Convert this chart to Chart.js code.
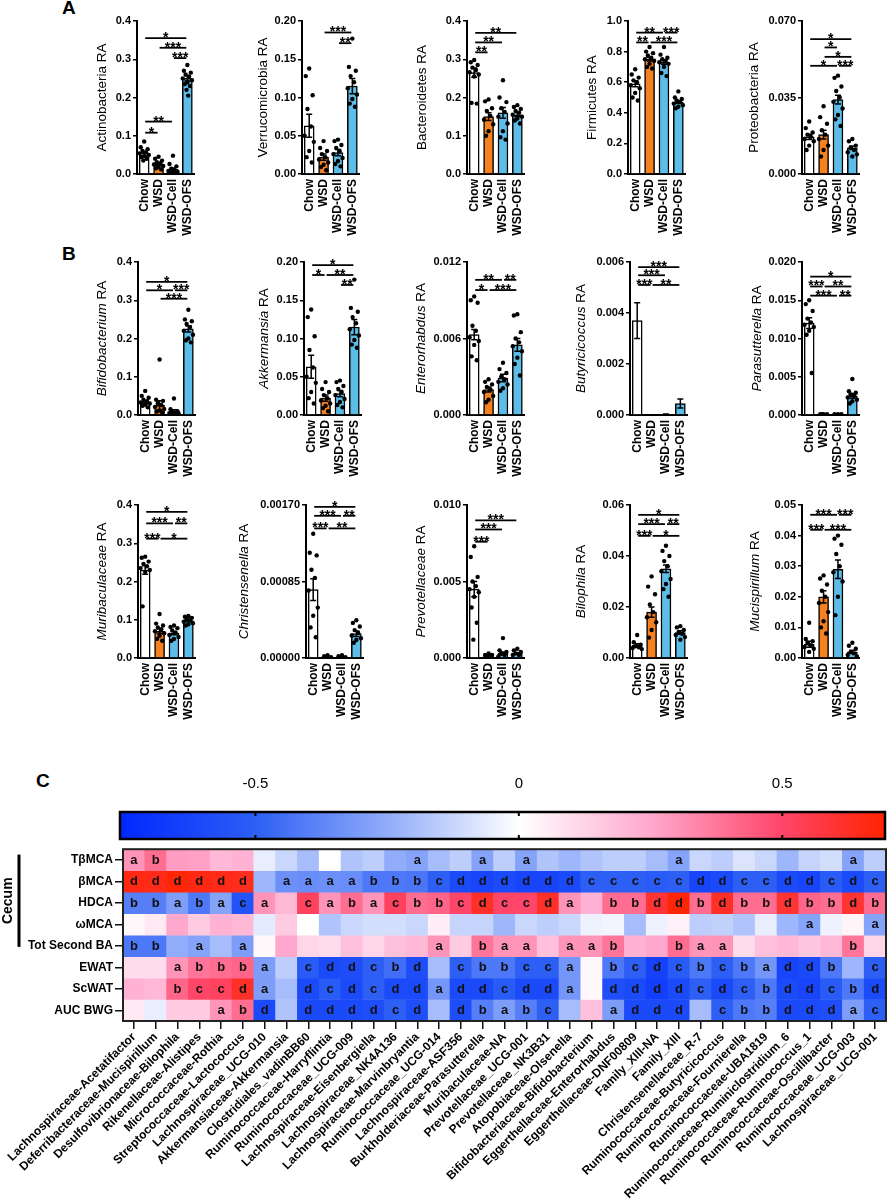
<!DOCTYPE html>
<html>
<head>
<meta charset="utf-8">
<script src="https://cdn.jsdelivr.net/npm/chart.js@4/dist/chart.umd.min.js"></script>
<style>
  body { margin: 0; width: 896px; height: 1200px; position: relative; overflow: hidden; background: #fff; font-family: "Liberation Sans", Arial, sans-serif; }
  .tag { position: absolute; font-weight: bold; font-size: 19px; color: #000; }
  canvas { position: absolute; }
</style>
</head>
<body>
<div class="tag" style="left:62px;top:-3px;">A</div>
<div class="tag" style="left:62px;top:243px;">B</div>
<div class="tag" style="left:36px;top:770px;">C</div>

<script>
// ===== 数据 =====
const groups = ['Chow', 'WSD', 'WSD-Cell', 'WSD-OFS'];

// ---- A: 门水平 ----
const actinoMean = [0.050, 0.025, 0.012, 0.250];
const actinoSem = [0.004, 0.003, 0.004, 0.007];
const actinoPts = [
  [0.085, 0.070, 0.065, 0.060, 0.057, 0.054, 0.050, 0.047, 0.044, 0.040, 0.035],
  [0.045, 0.040, 0.035, 0.031, 0.028, 0.025, 0.021, 0.018, 0.015, 0.012],
  [0.048, 0.026, 0.020, 0.014, 0.010, 0.008, 0.006, 0.004, 0.003, 0.002],
  [0.285, 0.270, 0.265, 0.260, 0.255, 0.250, 0.245, 0.240, 0.235, 0.230, 0.220, 0.205],
];
const actinoSig = [[0, 3, 0.355, '*'], [1, 3, 0.330, '***'], [2, 3, 0.303, '***'], [0, 2, 0.137, '**'], [0, 1, 0.108, '*']];
const actinoTicks = [0, 0.1, 0.2, 0.3, 0.4];

const verrucoMean = [0.063, 0.022, 0.028, 0.115];
const verrucoSem = [0.015, 0.004, 0.004, 0.010];
const verrucoPts = [
  [0.138, 0.128, 0.103, 0.085, 0.062, 0.050, 0.042, 0.030, 0.022, 0.015],
  [0.043, 0.034, 0.030, 0.026, 0.022, 0.019, 0.015, 0.012, 0.009, 0.005],
  [0.045, 0.043, 0.038, 0.034, 0.030, 0.026, 0.021, 0.017, 0.013, 0.010],
  [0.177, 0.140, 0.135, 0.128, 0.120, 0.112, 0.104, 0.098, 0.092, 0.088],
];
const verrucoSig = [[1, 3, 0.185, '***'], [2, 3, 0.171, '**']];
const verrucoTicks = [0, 0.05, 0.10, 0.15, 0.20];

const bactMean = [0.265, 0.150, 0.160, 0.155];
const bactSem = [0.012, 0.010, 0.014, 0.005];
const bactPts = [
  [0.298, 0.292, 0.285, 0.278, 0.272, 0.266, 0.260, 0.255, 0.186, 0.184],
  [0.195, 0.190, 0.172, 0.165, 0.152, 0.142, 0.130, 0.112, 0.100],
  [0.245, 0.200, 0.188, 0.172, 0.162, 0.150, 0.132, 0.112, 0.096, 0.090],
  [0.180, 0.175, 0.170, 0.165, 0.160, 0.155, 0.150, 0.145, 0.140, 0.132],
];
const bactSig = [[0, 3, 0.369, '**'], [0, 2, 0.344, '**'], [0, 1, 0.318, '**']];
const bactTicks = [0, 0.1, 0.2, 0.3, 0.4];

const firmMean = [0.59, 0.75, 0.73, 0.47];
const firmSem = [0.020, 0.012, 0.012, 0.010];
const firmPts = [
  [0.685, 0.650, 0.630, 0.612, 0.600, 0.580, 0.560, 0.530, 0.500, 0.480],
  [0.830, 0.800, 0.790, 0.775, 0.760, 0.750, 0.740, 0.720, 0.700, 0.690],
  [0.830, 0.780, 0.760, 0.750, 0.740, 0.730, 0.720, 0.700, 0.660, 0.640],
  [0.540, 0.500, 0.490, 0.480, 0.470, 0.460, 0.450, 0.440, 0.430],
];
const firmSig = [[0, 2, 0.924, '**'], [2, 3, 0.924, '***'], [0, 1, 0.860, '**'], [1, 3, 0.860, '***']];
const firmTicks = [0, 0.2, 0.4, 0.6, 0.8, 1.0];

const proteoMean = [0.017, 0.018, 0.034, 0.012];
const proteoSem = [0.0012, 0.0020, 0.0020, 0.0008];
const proteoPts = [
  [0.024, 0.021, 0.019, 0.018, 0.017, 0.016, 0.015, 0.013, 0.011],
  [0.031, 0.026, 0.023, 0.020, 0.018, 0.016, 0.013, 0.011, 0.008],
  [0.045, 0.044, 0.040, 0.038, 0.035, 0.033, 0.030, 0.027, 0.025, 0.022],
  [0.016, 0.015, 0.013, 0.012, 0.011, 0.010, 0.009, 0.008],
];
const proteoSig = [[0, 3, 0.0617, '*'], [1, 2, 0.0579, '*'], [1, 3, 0.0536, '*'], [0, 2, 0.0495, '*'], [2, 3, 0.0495, '***']];
const proteoTicks = [0, 0.035, 0.070];

// ---- B: 属水平 ----
const bifidoMean = [0.033, 0.025, 0.010, 0.225];
const bifidoSem = [0.004, 0.012, 0.004, 0.008];
const bifidoPts = [
  [0.063, 0.050, 0.045, 0.040, 0.036, 0.033, 0.030, 0.027, 0.024, 0.020],
  [0.145, 0.040, 0.037, 0.031, 0.026, 0.021, 0.016, 0.012, 0.009, 0.006],
  [0.043, 0.015, 0.010, 0.008, 0.006, 0.005, 0.004, 0.003, 0.002],
  [0.275, 0.250, 0.245, 0.238, 0.230, 0.220, 0.210, 0.200, 0.195, 0.190],
];
const bifidoSig = [[0, 3, 0.348, '*'], [0, 2, 0.326, '*'], [2, 3, 0.326, '***'], [1, 3, 0.304, '***']];
const bifidoTicks = [0, 0.1, 0.2, 0.3, 0.4];

const akkMean = [0.063, 0.022, 0.028, 0.115];
const akkSem = [0.015, 0.004, 0.004, 0.010];
const akkPts = [
  [0.138, 0.128, 0.103, 0.085, 0.062, 0.050, 0.042, 0.030, 0.022, 0.015],
  [0.043, 0.034, 0.030, 0.026, 0.022, 0.019, 0.015, 0.012, 0.009, 0.005],
  [0.045, 0.043, 0.038, 0.034, 0.030, 0.026, 0.021, 0.017, 0.013, 0.010],
  [0.177, 0.140, 0.135, 0.128, 0.120, 0.112, 0.104, 0.098, 0.092, 0.088],
];
const akkSig = [[0, 3, 0.196, '*'], [0, 1, 0.183, '*'], [1, 3, 0.183, '**'], [2, 3, 0.170, '**']];
const akkTicks = [0, 0.05, 0.10, 0.15, 0.20];

const enteroMean = [0.0063, 0.0020, 0.0029, 0.0055];
const enteroSem = [0.0004, 0.0002, 0.0003, 0.0005];
const enteroPts = [
  [0.0093, 0.0090, 0.0088, 0.0070, 0.0066, 0.0061, 0.0058, 0.0055, 0.0046, 0.0043],
  [0.0028, 0.0026, 0.0024, 0.0022, 0.0020, 0.0018, 0.0015, 0.0012, 0.0010],
  [0.0041, 0.0036, 0.0033, 0.0030, 0.0028, 0.0026, 0.0024, 0.0021, 0.0019],
  [0.0079, 0.0078, 0.0065, 0.0060, 0.0057, 0.0054, 0.0050, 0.0045, 0.0040, 0.0031],
];
const enteroSig = [[0, 2, 0.0106, '**'], [2, 3, 0.0106, '**'], [0, 1, 0.0098, '*'], [1, 3, 0.0098, '***']];
const enteroTicks = [0, 0.006, 0.012];

const butyMean = [0.0037, 0.0, 0.00003, 0.00045];
const butySem = [0.0007, 0.0, 0.00001, 0.00018];
const butyPts = [[], [], [], []];
const butySig = [[0, 3, 0.0058, '***'], [0, 2, 0.00548, '***'], [0, 1, 0.0051, '***'], [1, 3, 0.0051, '**']];
const butyTicks = [0, 0.002, 0.004, 0.006];

const parasMean = [0.0120, 0.0001, 0.0001, 0.0025];
const parasSem = [0.0007, 0.00003, 0.00003, 0.0003];
const parasPts = [
  [0.0150, 0.0145, 0.0136, 0.0126, 0.0121, 0.0118, 0.0115, 0.0110, 0.0105, 0.0055],
  [0.0001, 0.0001, 0.0001, 0.0001],
  [0.0001, 0.0001, 0.0001],
  [0.0047, 0.0031, 0.0029, 0.0027, 0.0025, 0.0023, 0.0020, 0.0018, 0.0015],
];
const parasSig = [[0, 3, 0.0181, '*'], [0, 1, 0.0168, '***'], [1, 3, 0.0168, '**'], [0, 2, 0.0156, '***'], [2, 3, 0.0156, '**']];
const parasTicks = [0, 0.005, 0.010, 0.015, 0.020];

const muriMean = [0.230, 0.070, 0.065, 0.098];
const muriSem = [0.011, 0.006, 0.004, 0.003];
const muriPts = [
  [0.265, 0.262, 0.252, 0.246, 0.240, 0.235, 0.230, 0.225, 0.135],
  [0.115, 0.090, 0.085, 0.080, 0.075, 0.070, 0.065, 0.058, 0.050, 0.045],
  [0.085, 0.081, 0.078, 0.072, 0.066, 0.060, 0.055, 0.050, 0.045],
  [0.110, 0.108, 0.105, 0.101, 0.098, 0.095, 0.091, 0.088, 0.085],
];
const muriSig = [[0, 3, 0.382, '*'], [0, 2, 0.352, '***'], [2, 3, 0.352, '**'], [0, 1, 0.312, '***'], [1, 3, 0.312, '*']];
const muriTicks = [0, 0.1, 0.2, 0.3, 0.4];

const chrisMean = [0.00076, 0.00001, 0.00001, 0.00027];
const chrisSem = [0.00012, 0.000005, 0.000005, 0.00003];
const chrisPts = [
  [0.00138, 0.00117, 0.00114, 0.00098, 0.00089, 0.00075, 0.00056, 0.00047, 0.00034, 0.00023],
  [0.00003, 0.00002, 0.00001, 0.00001],
  [0.00003, 0.00002, 0.00001],
  [0.00042, 0.00039, 0.00035, 0.00031, 0.00028, 0.00025, 0.00022, 0.00020, 0.00017],
];
const chrisSig = [[0, 3, 0.00168, '*'], [0, 2, 0.00158, '***'], [2, 3, 0.00158, '**'], [0, 1, 0.00144, '***'], [1, 3, 0.00144, '**']];
const chrisTicks = [0, 0.00085, 0.00170];

const prevoMean = [0.0045, 0.0002, 0.0003, 0.0003];
const prevoSem = [0.0005, 0.00003, 0.0001, 0.00005];
const prevoPts = [
  [0.0073, 0.0066, 0.0053, 0.0050, 0.0047, 0.0045, 0.0043, 0.0040, 0.0033, 0.0023, 0.0012],
  [0.0003, 0.0002, 0.0002, 0.0001, 0.0001],
  [0.0013, 0.0005, 0.0004, 0.0003, 0.0002, 0.0001],
  [0.0006, 0.0005, 0.0004, 0.0003, 0.0002, 0.0002],
];
const prevoSig = [[0, 3, 0.0090, '***'], [0, 2, 0.0084, '***'], [0, 1, 0.0076, '***']];
const prevoTicks = [0, 0.005, 0.010];

const biloMean = [0.005, 0.018, 0.035, 0.010];
const biloSem = [0.0006, 0.0020, 0.0015, 0.0007];
const biloPts = [
  [0.0090, 0.0062, 0.0052, 0.0046, 0.0042, 0.0039, 0.0035],
  [0.032, 0.028, 0.025, 0.021, 0.018, 0.016, 0.014, 0.011, 0.008],
  [0.044, 0.042, 0.040, 0.038, 0.036, 0.034, 0.031, 0.029, 0.027, 0.024],
  [0.0125, 0.0120, 0.0110, 0.0102, 0.0095, 0.0090, 0.0082, 0.0072],
];
const biloSig = [[0, 3, 0.0561, '*'], [0, 2, 0.0525, '***'], [2, 3, 0.0525, '**'], [0, 1, 0.0479, '***'], [1, 3, 0.0479, '*']];
const biloTicks = [0, 0.02, 0.04, 0.06];

const mucisMean = [0.0045, 0.020, 0.029, 0.002];
const mucisSem = [0.0010, 0.0020, 0.0030, 0.0005];
const mucisPts = [
  [0.0115, 0.0062, 0.0055, 0.0050, 0.0042, 0.0036, 0.0030, 0.0020],
  [0.027, 0.026, 0.024, 0.022, 0.020, 0.018, 0.015, 0.012, 0.010, 0.008],
  [0.040, 0.039, 0.037, 0.034, 0.030, 0.028, 0.025, 0.020, 0.014],
  [0.0050, 0.0040, 0.0030, 0.0020, 0.0015, 0.0010, 0.0005],
];
const mucisSig = [[0, 2, 0.0468, '***'], [2, 3, 0.0468, '***'], [0, 1, 0.0419, '***'], [1, 3, 0.0419, '***']];
const mucisTicks = [0, 0.01, 0.02, 0.03, 0.04, 0.05];

// ---- C: 相关热图 ----
const taxa = [
  'Lachnospiraceae-Acetatifactor', 'Deferribacteraceae-Mucispirillum', 'Desulfovibrionaceae-Bilophila',
  'Rikenellaceae-Alistipes', 'Micrococcaceae-Rothia', 'Streptococcaceae-Lactococcus',
  'Lachnospiraceae_UCG-010', 'Akkermansiaceae-Akkermansia', 'Clostridiales_vadinBB60',
  'Ruminococcaceae-Harryflintia', 'Ruminococcaceae_UCG-009', 'Lachnospiraceae-Eisenbergiella',
  'Lachnospiraceae_NK4A136', 'Lachnospiraceae-Marvinbryantia', 'Ruminococcaceae_UCG-014',
  'Lachnospiraceae-ASF356', 'Burkholderiaceae-Parasutterella', 'Muribaculaceae-NA',
  'Prevotellaceae_UCG-001', 'Prevotellaceae_NK3B31', 'Atopobiaceae-Olsenella',
  'Bifidobacteriaceae-Bifidobacterium', 'Eggerthellaceae-Enterorhabdus', 'Eggerthellaceae-DNF00809',
  'Family_XIII-NA', 'Family_XIII', 'Christensenellaceae_R-7',
  'Ruminococcaceae-Butyricicoccus', 'Ruminococcaceae-Fournierella', 'Ruminococcaceae-UBA1819',
  'Ruminococcaceae-Ruminiclostridium_6', 'Ruminococcaceae-Ruminococcus_1', 'Ruminococcaceae-Oscillibacter',
  'Ruminococcaceae_UCG-003', 'Lachnospiraceae_UCG-001',
];
const rowNames = ['TβMCA', 'βMCA', 'HDCA', 'ωMCA', 'Tot Second BA', 'EWAT', 'ScWAT', 'AUC BWG'];

const rTbmca = [0.30, 0.40, 0.28, 0.27, 0.20, 0.22, -0.05, -0.12, -0.20, 0.00, -0.18, -0.15, -0.25, -0.28, -0.20,
  -0.15, -0.28, -0.15, -0.28, -0.18, -0.22, -0.18, -0.15, -0.15, -0.20, -0.28, -0.12, -0.15, -0.08, -0.12, -0.22, -0.13, -0.10, -0.28, -0.15];
const rBmca = [0.66, 0.65, 0.68, 0.66, 0.65, 0.64, -0.22, -0.34, -0.35, -0.34, -0.35, -0.42, -0.42, -0.43, -0.50,
  -0.60, -0.62, -0.60, -0.62, -0.62, -0.60, -0.50, -0.50, -0.50, -0.52, -0.50, -0.62, -0.60, -0.50, -0.50, -0.60, -0.62, -0.52, -0.60, -0.50];
const rHdca = [-0.40, -0.40, -0.30, -0.42, -0.28, -0.55, 0.30, 0.20, 0.52, 0.30, 0.40, 0.30, 0.52, 0.40, 0.42,
  0.50, 0.62, 0.50, 0.50, 0.62, 0.30, 0.22, 0.40, 0.40, 0.60, 0.68, 0.40, 0.62, 0.40, 0.40, 0.60, 0.42, 0.40, 0.60, 0.40];
const rWmca = [0.02, 0.06, 0.25, 0.15, 0.22, 0.20, -0.06, 0.15, 0.00, -0.18, -0.12, -0.10, -0.10, -0.12, 0.05,
  -0.13, -0.13, -0.22, -0.12, -0.15, -0.12, -0.04, -0.03, -0.20, -0.04, 0.04, -0.15, -0.14, -0.18, -0.05, -0.22, -0.28, -0.04, 0.03, -0.28];
const rTotBa = [-0.42, -0.42, -0.25, -0.28, -0.20, -0.30, 0.02, 0.25, 0.12, 0.10, 0.18, 0.12, 0.18, 0.20, 0.30,
  0.15, 0.38, 0.30, 0.30, 0.18, 0.30, 0.30, 0.38, 0.22, 0.25, 0.40, 0.30, 0.30, 0.10, 0.18, 0.20, 0.16, 0.20, 0.38, 0.12];
const rEwat = [0.10, 0.10, 0.30, 0.38, 0.40, 0.42, -0.30, -0.15, -0.52, -0.60, -0.58, -0.50, -0.45, -0.58, -0.20,
  -0.50, -0.42, -0.42, -0.50, -0.50, -0.32, 0.02, -0.42, -0.50, -0.63, -0.52, -0.42, -0.50, -0.42, -0.32, -0.62, -0.60, -0.42, -0.22, -0.50];
const rScwat = [0.22, 0.20, 0.42, 0.50, 0.52, 0.62, -0.30, -0.20, -0.60, -0.52, -0.60, -0.50, -0.60, -0.60, -0.32,
  -0.60, -0.60, -0.52, -0.60, -0.60, -0.32, 0.02, -0.58, -0.60, -0.65, -0.60, -0.50, -0.60, -0.50, -0.42, -0.60, -0.62, -0.52, -0.42, -0.60];
const rAucBwg = [0.06, -0.05, 0.15, 0.15, 0.30, 0.40, -0.60, -0.18, -0.60, -0.60, -0.60, -0.58, -0.50, -0.58, -0.20,
  -0.58, -0.40, -0.30, -0.40, -0.50, -0.20, 0.18, -0.30, -0.60, -0.60, -0.60, -0.20, -0.50, -0.42, -0.40, -0.60, -0.60, -0.58, -0.30, -0.50];

// 显著性字母, '-' 表示空
const lTbmca = 'ab-----------a--a-a------a-------a-';
const lBmca = 'dddddd-aaaabbbcddddddcccccddccddcdc';
const lHdca = 'bbabaca-cabacbbcdccda-bbddbdbbdbbdb';
const lWmca = '-------------------------------a--a';
const lTotBa = 'bb-a-a--------a-baa-aab--baa-----b-';
const lEwat = '--abbba-cddcbd-cbbcca-bcdcbcbaddb-c';
const lScwat = '--bccda-dcdcddaddcdda-ddddcdcbddcbd';
const lAucBwg = '----abd-ddddcd-dbabc--addd-cbbdddac';

const cbMin = -0.757;
const cbMax = 0.695;
const cbTicks = [-0.5, 0, 0.5];

// ===== 样式 =====
const FONT = '"Liberation Sans", Arial, sans-serif';
Chart.defaults.font.family = FONT;
Chart.defaults.color = '#000';

const barFill = ['#ffffff', '#f5821f', '#5cbde9', '#5cbde9'];
const dotSpread = [0, -0.24, 0.24, -0.12, 0.12, -0.32, 0.32, 0, -0.18, 0.18, -0.06, 0.06];
const cmapStops = [
  [-0.757, [0, 40, 255]], [-0.5, [45, 95, 245]], [-0.25, [145, 172, 250]], [0, [255, 255, 255]],
  [0.25, [255, 168, 205]], [0.5, [255, 70, 105]], [0.695, [255, 35, 0]],
];

function cmap(v) {
  let i = 0;
  while (i < cmapStops.length - 2 && v > cmapStops[i + 1][0]) i++;
  const [v0, c0] = cmapStops[i], [v1, c1] = cmapStops[i + 1];
  const t = Math.min(1, Math.max(0, (v - v0) / (v1 - v0)));
  const c = c0.map((k, j) => Math.round(k + (c1[j] - k) * t));
  return `rgb(${c[0]},${c[1]},${c[2]})`;
}

// ===== 柱状图 =====
const Y_W = 80, PLOT_W = 61, PAD_R = 10, PAD_T = 10, PLOT_H = 153, X_H = 68;

const panels = [
  // A
  { title: 'Actinobacteria', it: false, mean: actinoMean, sem: actinoSem, pts: actinoPts, sig: actinoSig, ticks: actinoTicks, dec: 1, x: 137, y: 21, off: 35 },
  { title: 'Verrucomicrobia', it: false, mean: verrucoMean, sem: verrucoSem, pts: verrucoPts, sig: verrucoSig, ticks: verrucoTicks, dec: 2, x: 302, y: 21, off: 39 },
  { title: 'Bacteroidetes', it: false, mean: bactMean, sem: bactSem, pts: bactPts, sig: bactSig, ticks: bactTicks, dec: 1, x: 467, y: 21, off: 45 },
  { title: 'Firmicutes', it: false, mean: firmMean, sem: firmSem, pts: firmPts, sig: firmSig, ticks: firmTicks, dec: 1, x: 628, y: 21, off: 36 },
  { title: 'Proteobacteria', it: false, mean: proteoMean, sem: proteoSem, pts: proteoPts, sig: proteoSig, ticks: proteoTicks, dec: 3, x: 802, y: 21, off: 48 },
  // B 第一行
  { title: 'Bifidobacterium', it: true, mean: bifidoMean, sem: bifidoSem, pts: bifidoPts, sig: bifidoSig, ticks: bifidoTicks, dec: 1, x: 138, y: 262, off: 36 },
  { title: 'Akkermansia', it: true, mean: akkMean, sem: akkSem, pts: akkPts, sig: akkSig, ticks: akkTicks, dec: 2, x: 304, y: 262, off: 40 },
  { title: 'Enterorhabdus', it: true, mean: enteroMean, sem: enteroSem, pts: enteroPts, sig: enteroSig, ticks: enteroTicks, dec: 3, x: 467, y: 262, off: 46 },
  { title: 'Butyricicoccus', it: true, mean: butyMean, sem: butySem, pts: butyPts, sig: butySig, ticks: butyTicks, dec: 3, x: 630, y: 262, off: 49 },
  { title: 'Parasutterella', it: true, mean: parasMean, sem: parasSem, pts: parasPts, sig: parasSig, ticks: parasTicks, dec: 3, x: 802, y: 262, off: 45 },
  // B 第二行
  { title: 'Muribaculaceae', it: true, mean: muriMean, sem: muriSem, pts: muriPts, sig: muriSig, ticks: muriTicks, dec: 1, x: 138, y: 505, off: 36 },
  { title: 'Christensenella', it: true, mean: chrisMean, sem: chrisSem, pts: chrisPts, sig: chrisSig, ticks: chrisTicks, dec: 5, x: 306, y: 505, off: 62 },
  { title: 'Prevotellaceae', it: true, mean: prevoMean, sem: prevoSem, pts: prevoPts, sig: prevoSig, ticks: prevoTicks, dec: 3, x: 467, y: 505, off: 46 },
  { title: 'Bilophila', it: true, mean: biloMean, sem: biloSem, pts: biloPts, sig: biloSig, ticks: biloTicks, dec: 2, x: 630, y: 505, off: 49 },
  { title: 'Mucispirillum', it: true, mean: mucisMean, sem: mucisSem, pts: mucisPts, sig: mucisSig, ticks: mucisTicks, dec: 2, x: 802, y: 505, off: 47 },
];

function addCanvas(left, top, w, h) {
  const cv = document.createElement('canvas');
  cv.width = w; cv.height = h;
  cv.style.left = left + 'px'; cv.style.top = top + 'px';
  cv.style.width = w + 'px'; cv.style.height = h + 'px';
  document.body.appendChild(cv);
  return cv;
}

function makePanel(p) {
  const W = Y_W + PLOT_W + PAD_R, H = PAD_T + PLOT_H + X_H;
  const cv = addCanvas(p.x - Y_W, p.y - PAD_T, W, H);
  const bars = p.mean.map((m, i) => ({ x: i, y: m }));
  const dots = [];
  p.pts.forEach((arr, i) => arr.forEach((v, k) => dots.push({ x: i + dotSpread[k % dotSpread.length], y: v })));

  const extras = {
    id: 'extras',
    afterDatasetsDraw(chart) {
      const ctx = chart.ctx, xs = chart.scales.x, ys = chart.scales.y, a = chart.chartArea;
      ctx.save();
      ctx.strokeStyle = '#000';
      ctx.fillStyle = '#000';
      // 误差线 (均值 ± SEM)
      ctx.lineWidth = 1.5;
      p.mean.forEach((m, i) => {
        if (!p.sem[i]) return;
        const x = xs.getPixelForValue(i);
        const t = ys.getPixelForValue(m + p.sem[i]);
        const b = ys.getPixelForValue(Math.max(m - p.sem[i], 0));
        ctx.beginPath();
        ctx.moveTo(x, t); ctx.lineTo(x, b);
        ctx.moveTo(x - 3, t); ctx.lineTo(x + 3, t);
        ctx.moveTo(x - 3, b); ctx.lineTo(x + 3, b);
        ctx.stroke();
      });
      // 显著性标记
      ctx.font = 'bold 14px ' + FONT;
      ctx.textAlign = 'center';
      ctx.textBaseline = 'alphabetic';
      ctx.lineWidth = 1.8;
      p.sig.forEach(([g1, g2, v, s]) => {
        const x1 = xs.getPixelForValue(g1) + 1, x2 = xs.getPixelForValue(g2) - 1;
        const y = ys.getPixelForValue(v);
        ctx.beginPath(); ctx.moveTo(x1, y); ctx.lineTo(x2, y); ctx.stroke();
        ctx.fillText(s, (x1 + x2) / 2, y + 4);
      });
      // y 轴标题
      ctx.translate(a.left - p.off, (a.top + a.bottom) / 2);
      ctx.rotate(-Math.PI / 2);
      ctx.textBaseline = 'middle';
      ctx.textAlign = 'left';
      const f1 = (p.it ? 'italic ' : '') + '13.5px ' + FONT, f2 = '13.5px ' + FONT;
      ctx.font = f1; const w1 = ctx.measureText(p.title).width;
      ctx.font = f2; const w2 = ctx.measureText(' RA').width;
      const sx = -(w1 + w2) / 2;
      ctx.font = f1; ctx.fillText(p.title, sx, 0);
      ctx.font = f2; ctx.fillText(' RA', sx + w1, 0);
      ctx.restore();
    },
  };

  new Chart(cv, {
    type: 'bar',
    data: {
      datasets: [
        { data: bars, backgroundColor: barFill, borderColor: '#000', borderWidth: 1.5, barThickness: 10, order: 2 },
        { type: 'scatter', data: dots, pointRadius: 2.2, pointBackgroundColor: '#000', pointBorderWidth: 0, order: 1 },
      ],
    },
    options: {
      responsive: false,
      animation: false,
      events: [],
      layout: { padding: { top: PAD_T, right: PAD_R, left: 0, bottom: 0 } },
      plugins: { legend: { display: false }, tooltip: { enabled: false } },
      scales: {
        x: {
          type: 'linear',
          offset: false,
          min: -0.5,
          max: 3.5,
          afterBuildTicks: s => { s.ticks = groups.map((_, i) => ({ value: i })); },
          afterFit: s => { s.height = X_H; },
          grid: { display: false, drawTicks: false },
          border: { color: '#000', width: 2 },
          ticks: { callback: v => groups[v], minRotation: 90, maxRotation: 90, autoSkip: false, font: { size: 12, weight: 'bold' }, color: '#000', padding: 5 },
        },
        y: {
          min: 0,
          max: p.ticks[p.ticks.length - 1],
          afterBuildTicks: s => { s.ticks = p.ticks.map(v => ({ value: v })); },
          afterFit: s => { s.width = Y_W; },
          ticks: { callback: v => v.toFixed(p.dec), font: { size: 11, weight: 'bold' }, color: '#000', padding: 2 },
          grid: { drawOnChartArea: false, color: '#000', lineWidth: 1.5, tickLength: 4 },
          border: { color: '#000', width: 2 },
        },
      },
    },
    plugins: [extras],
  });
}

panels.forEach(makePanel);

// ===== 色标 =====
const cbCanvas = addCanvas(0, 766, 896, 80);
new Chart(cbCanvas, {
  type: 'scatter',
  data: { datasets: [] },
  options: {
    responsive: false,
    animation: false,
    events: [],
    layout: { padding: { left: 120, right: 11, top: 0, bottom: 7 } },
    plugins: { legend: { display: false }, tooltip: { enabled: false } },
    scales: {
      x: {
        type: 'linear', position: 'top', min: cbMin, max: cbMax,
        afterBuildTicks: s => { s.ticks = cbTicks.map(v => ({ value: v })); },
        afterFit: s => { s.height = 46; },
        ticks: { callback: v => String(v), font: { size: 15 }, color: '#000', padding: 19 },
        grid: { display: false, drawTicks: false },
        border: { display: false },
      },
      y: { display: false, min: 0, max: 1 },
    },
  },
  plugins: [{
    id: 'colorbar',
    afterDraw(chart) {
      const ctx = chart.ctx, a = chart.chartArea, xs = chart.scales.x;
      ctx.save();
      const g = ctx.createLinearGradient(a.left, 0, a.right, 0);
      cmapStops.forEach(([v, c]) => {
        const t = Math.min(1, Math.max(0, (v - cbMin) / (cbMax - cbMin)));
        g.addColorStop(t, `rgb(${c[0]},${c[1]},${c[2]})`);
      });
      ctx.fillStyle = g;
      ctx.fillRect(a.left, a.top, a.width, a.height);
      ctx.strokeStyle = '#000';
      ctx.lineWidth = 2;
      cbTicks.forEach(v => {
        const x = xs.getPixelForValue(v);
        ctx.beginPath();
        ctx.moveTo(x, a.top); ctx.lineTo(x, a.top + 4);
        ctx.moveTo(x, a.bottom - 4); ctx.lineTo(x, a.bottom);
        ctx.stroke();
      });
      ctx.lineWidth = 2.5;
      ctx.strokeRect(a.left, a.top, a.width, a.height);
      ctx.restore();
    },
  }],
});

// ===== 热图 =====
const hmRows = [rTbmca, rBmca, rHdca, rWmca, rTotBa, rEwat, rScwat, rAucBwg];
const hmLetters = [lTbmca, lBmca, lHdca, lWmca, lTotBa, lEwat, lScwat, lAucBwg];
const hmCanvas = addCanvas(0, 840, 896, 360);

new Chart(hmCanvas, {
  type: 'bar',
  data: {
    labels: taxa,
    datasets: hmRows.map((vals, r) => ({
      data: vals.map(() => [r, r + 1]),
      backgroundColor: vals.map(cmap),
      borderWidth: 0,
      grouped: false,
      barPercentage: 1,
      categoryPercentage: 1,
    })),
  },
  options: {
    responsive: false,
    animation: false,
    events: [],
    layout: { padding: { top: 9, right: 10, left: 0, bottom: 0 } },
    plugins: { legend: { display: false }, tooltip: { enabled: false } },
    scales: {
      x: {
        afterFit: s => { s.height = 179; },
        grid: { drawOnChartArea: false, offset: false, tickLength: 8, color: '#111', lineWidth: 1.5 },
        border: { display: false },
        ticks: { autoSkip: false, minRotation: 45, maxRotation: 45, font: { size: 12, weight: 'bold' }, color: '#000', padding: 1 },
      },
      y: {
        reverse: true, min: 0, max: rowNames.length,
        afterBuildTicks: s => { s.ticks = rowNames.map((_, i) => ({ value: i + 0.5 })); },
        afterFit: s => { s.width = 123; },
        ticks: { callback: v => rowNames[Math.floor(v)], font: { size: 12, weight: 'bold' }, color: '#000', padding: 2 },
        grid: { drawOnChartArea: false, tickLength: 8, color: '#111', lineWidth: 1.5 },
        border: { display: false },
      },
    },
  },
  plugins: [{
    id: 'hmExtras',
    afterDatasetsDraw(chart) {
      const ctx = chart.ctx, xs = chart.scales.x, ys = chart.scales.y, a = chart.chartArea;
      ctx.save();
      ctx.font = 'bold 13px ' + FONT;
      ctx.fillStyle = '#111';
      ctx.textAlign = 'center';
      ctx.textBaseline = 'middle';
      hmLetters.forEach((row, r) => row.split('').forEach((ch, c) => {
        if (ch !== '-') ctx.fillText(ch, xs.getPixelForValue(c), ys.getPixelForValue(r + 0.5) + 0.5);
      }));
      ctx.lineWidth = 2;
      ctx.strokeStyle = '#222';
      ctx.strokeRect(a.left, a.top, a.width, a.height);
      // Cecum 分组
      const y0 = ys.getPixelForValue(0.25), y1 = ys.getPixelForValue(4.55);
      ctx.lineWidth = 3;
      ctx.strokeStyle = '#000';
      ctx.beginPath(); ctx.moveTo(19, y0); ctx.lineTo(19, y1); ctx.stroke();
      ctx.translate(8, (y0 + y1) / 2);
      ctx.rotate(-Math.PI / 2);
      ctx.font = 'bold 14px ' + FONT;
      ctx.fillStyle = '#000';
      ctx.fillText('Cecum', 0, 0);
      ctx.restore();
    },
  }],
});
</script>
</body>
</html>
